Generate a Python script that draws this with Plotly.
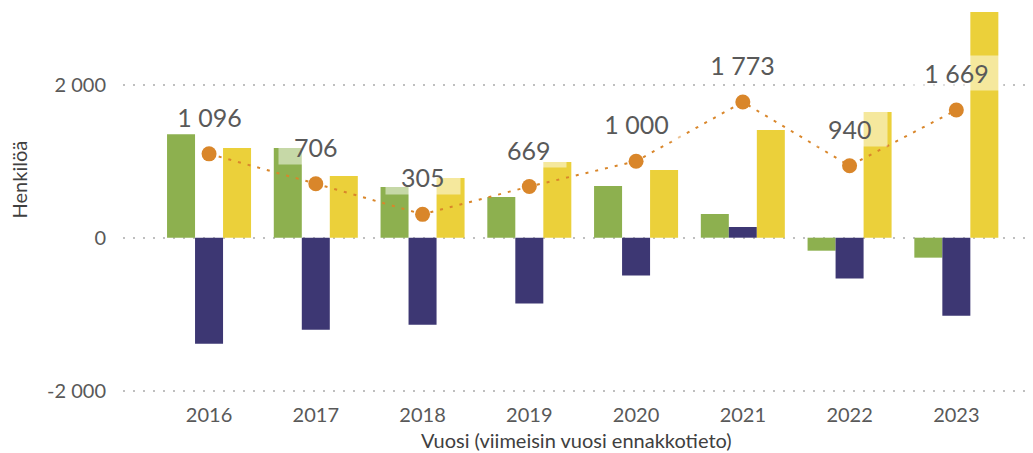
import plotly.graph_objects as go

years = ["2016", "2017", "2018", "2019", "2020", "2021", "2022", "2023"]
natural = [1355, 1172, 662, 532, 676, 310, -170, -261]
domestic = [-1386, -1203, -1137, -859, -493, 140, -532, -1020]
immigration = [1172, 806, 780, 990, 885, 1408, 1643, 2950]
total = [1096, 706, 305, 669, 1000, 1773, 940, 1669]
total_labels = ["1 096", "706", "305", "669", "1 000", "1 773", "940", "1 669"]
ytick_vals = [-2000, 0, 2000]
ytick_text = ["-2 000", "0", "2 000"]

FONT = "Lato"
GREY = "#595959"

fig = go.Figure()
fig.add_trace(go.Bar(x=years, y=natural, name="Luonnollinen väestönlisäys",
                     marker=dict(color="#8DB04F", line=dict(width=0))))
fig.add_trace(go.Bar(x=years, y=domestic, name="Kuntien välinen nettomuutto",
                     marker=dict(color="#3D3773", line=dict(width=0))))
fig.add_trace(go.Bar(x=years, y=immigration, name="Nettomaahanmuutto",
                     marker=dict(color="#EBD03A", line=dict(width=0))))
fig.add_trace(go.Scatter(x=years, y=total, name="Väestönmuutos", mode="lines+markers",
                         line=dict(color="#D9862A", width=2, dash="3px,7px"),
                         marker=dict(color="#D9862A", size=15)))


def label_width(s):
    return sum(14.5 if c.isdigit() else 5 for c in s) + 30


for i, (v, t) in enumerate(zip(total, total_labels)):
    fig.add_annotation(x=i, y=v, xref="x", yref="y", text=t, showarrow=False, yshift=37,
                       font=dict(family=FONT, size=25, color=GREY),
                       width=label_width(t), height=34, align="center", valign="middle",
                       bgcolor="rgba(255,255,255,0.5)", borderpad=0)

fig.add_annotation(xref="paper", yref="paper", x=0.5, y=0, yshift=-45,
                   xanchor="center", yanchor="middle", showarrow=False,
                   text="Vuosi (viimeisin vuosi ennakkotieto)",
                   font=dict(family=FONT, size=20, color="#404040"))
fig.add_annotation(xref="paper", yref="paper", x=0, xshift=-104, y=0.56,
                   xanchor="center", yanchor="middle", showarrow=False, textangle=-90,
                   text="Henkilöä", font=dict(family=FONT, size=20, color="#404040"))

# page body has an 8px default margin, so the figure is shifted by 8px
fig.update_layout(
    width=1025, height=445,
    margin=dict(l=115, r=3, t=2, b=58),
    paper_bgcolor="white", plot_bgcolor="white",
    barmode="group", bargap=0.213, bargroupgap=0,
    showlegend=False,
    font=dict(family=FONT, color=GREY),
)
fig.update_xaxes(type="category", range=[-0.806, 7.69], showgrid=False, zeroline=False,
                 showline=False, ticks="", tickfont=dict(family=FONT, size=20, color=GREY),
                 ticklabelstandoff=6)
fig.update_yaxes(range=[-2056, 2976], tickvals=ytick_vals, ticktext=ytick_text,
                 showgrid=True, gridcolor="#BFBFBF", gridwidth=1.5, griddash="2px,8px",
                 zeroline=False, showline=False, ticks="",
                 tickfont=dict(family=FONT, size=20, color=GREY), ticklabelstandoff=16)

fig.write_html("out.html")
